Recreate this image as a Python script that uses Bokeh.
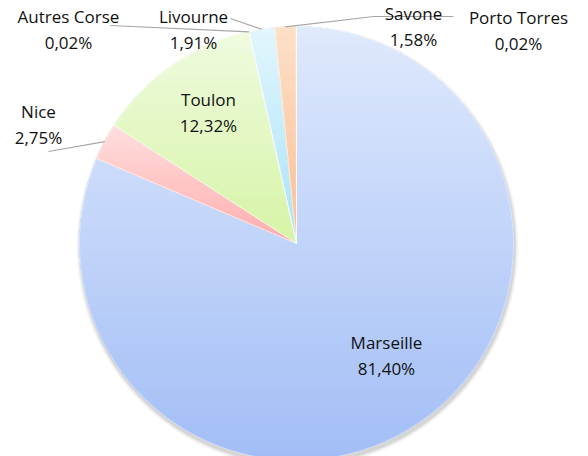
import numpy as np
from bokeh.plotting import figure
from bokeh.models import Range1d, ColumnDataSource
from bokeh.core.properties import value
from bokeh.embed import file_html
from bokeh.resources import INLINE

# ---- data ----
ports = ["Marseille", "Nice", "Toulon", "Autres Corse", "Livourne", "Savone", "Porto Torres"]
shares = [81.40, 2.75, 12.32, 0.02, 1.91, 1.58, 0.02]
pct_labels = ["81,40%", "2,75%", "12,32%", "0,02%", "1,91%", "1,58%", "0,02%"]

# ---- style / layout ----
top_colors = ["#dfe9fc", "#ffdfdf", "#effbdf", "#e2f6fe", "#e2f6fe", "#fde0c8", "#dfe9fc"]
bot_colors = ["#a2bef6", "#ffacac", "#d6f4a6", "#a8e2f8", "#a8e2f8", "#f9bf93", "#a2bef6"]
R = 217
W, H = 588, 456
# label centres (pixel offsets from pie centre, y up)
label_pos = [(90, -112), (-258, 119), (-88, 131), (-228, 214), (-103, 214), (117, 217), (222, 213)]
# elbow / end points of leader lines (for outside labels)
leaders = {
    1: [(-248, 92)],
    3: [(-186, 218)],
    4: [(-66, 225)],
    5: [(77, 227), (157, 227)],
}

fr = np.array(shares) / sum(shares)
cum_end = np.cumsum(fr)
cum_start = cum_end - fr
start_angle = np.pi / 2 - 2 * np.pi * cum_end
end_angle = np.pi / 2 - 2 * np.pi * cum_start
mid = (start_angle + end_angle) / 2


def hex2rgb(h):
    return np.array([int(h[i:i + 2], 16) for i in (1, 3, 5)], dtype=float)


def rgb2hex(c):
    return "#%02x%02x%02x" % tuple(int(round(v)) for v in c)


def clip_above(poly, c):
    out = []
    n = len(poly)
    for i in range(n):
        P, Q = poly[i], poly[(i + 1) % n]
        pin, qin = P[1] >= c, Q[1] >= c
        if pin:
            out.append(P)
        if pin != qin:
            t = (c - P[1]) / (Q[1] - P[1])
            out.append((P[0] + t * (Q[0] - P[0]), c))
    return out


p = figure(width=W, height=H, output_backend="svg", toolbar_location=None,
           x_range=Range1d(-296, 292), y_range=Range1d(-213, 243),
           min_border=0, min_border_left=0, min_border_right=0,
           min_border_top=0, min_border_bottom=0)
p.axis.visible = False
p.grid.visible = False
p.outline_line_color = None
p.background_fill_color = "white"

# soft shadow
for rr, a in [(R + 4, 0.05), (R + 3, 0.07), (R + 2, 0.10), (R + 1, 0.14)]:
    p.circle(x=[1], y=[-3], radius=rr, fill_color="#7f7f7f", fill_alpha=a, line_color=None)

# slices with a vertical (per-slice) gradient: stacked opaque clipped polygons
N = 48
gx, gy, gc = [], [], []
for i in range(len(shares)):
    if fr[i] < 0.001:
        continue
    npts = max(3, int(abs(end_angle[i] - start_angle[i]) / (2 * np.pi) * 360) + 2)
    th = np.linspace(start_angle[i], end_angle[i], npts)
    poly = [(0.0, 0.0)] + [(R * np.cos(t), R * np.sin(t)) for t in th]
    ys_all = [q[1] for q in poly]
    ymin, ymax = min(ys_all), max(ys_all)
    ct, cb = hex2rgb(top_colors[i]), hex2rgb(bot_colors[i])
    for k in range(N):
        c = ymin + k * (ymax - ymin) / N
        sub = poly if k == 0 else clip_above(poly, c)
        if len(sub) < 3:
            continue
        t = (k + 0.5) / N
        gx.append([q[0] for q in sub])
        gy.append([q[1] for q in sub])
        gc.append(rgb2hex(cb + (ct - cb) * t))
p.patches(xs=gx, ys=gy, fill_color=gc, line_color=None)

src = ColumnDataSource(dict(port=ports, share=shares, start=start_angle, end=end_angle))
p.wedge(x=0, y=0, radius=R, start_angle="start", end_angle="end", source=src,
        fill_alpha=0, line_color="white", line_width=0.5, line_alpha=0.8)

# leader lines
for i, pts in leaders.items():
    xs = [R * np.cos(mid[i])] + [q[0] for q in pts]
    ys = [R * np.sin(mid[i])] + [q[1] for q in pts]
    p.line(xs, ys, line_color="#a6a6a6", line_width=1.2)

# labels
nx = [q[0] for q in label_pos]
ny = [q[1] for q in label_pos]
p.text(x=nx, y=[y + 13 for y in ny], text=ports, text_font=value("Open Sans"),
       text_font_size="17px", text_color="#111111", text_align="center", text_baseline="middle")
p.text(x=nx, y=[y - 13 for y in ny], text=pct_labels, text_font=value("Open Sans"),
       text_font_size="17px", text_color="#111111", text_align="center", text_baseline="middle")

open("out.html", "w").write(file_html(p, INLINE))
